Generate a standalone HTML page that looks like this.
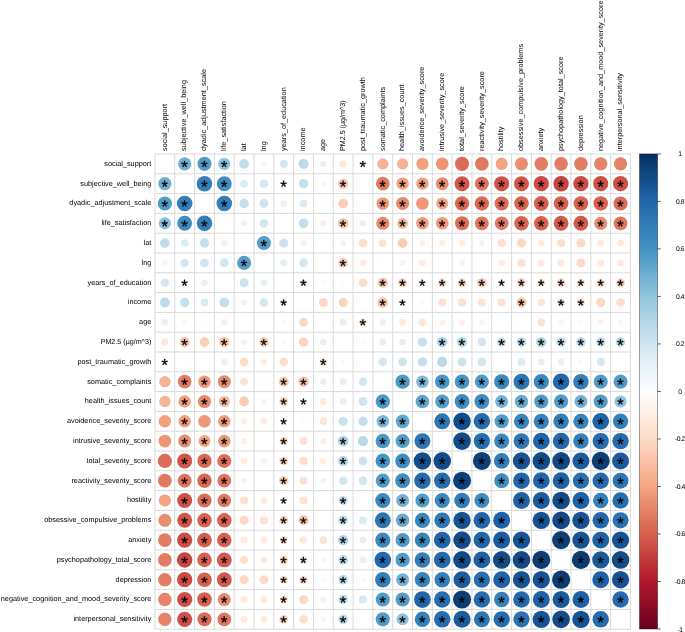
<!DOCTYPE html>
<html><head><meta charset="utf-8"><style>
html,body{margin:0;padding:0;background:#fff;width:685px;height:632px;overflow:hidden;}
use{fill:#000;stroke:#000;stroke-width:36.1;stroke-linejoin:round;}
svg text{font-family:"Liberation Sans",sans-serif;text-rendering:geometricPrecision;fill:#000;}
</style></head><body>
<svg width="685" height="632" viewBox="0 0 685 632" style="position:absolute;left:0;top:0;will-change:transform"><rect x="0" y="0" width="685" height="632" fill="#fff"/><path d="M154.96 153.97V629.22M154.96 153.97H630.45M174.77 153.97V629.22M154.96 173.77H630.45M194.58 153.97V629.22M154.96 193.57H630.45M214.40 153.97V629.22M154.96 213.38H630.45M234.21 153.97V629.22M154.96 233.18H630.45M254.02 153.97V629.22M154.96 252.98H630.45M273.83 153.97V629.22M154.96 272.78H630.45M293.64 153.97V629.22M154.96 292.58H630.45M313.46 153.97V629.22M154.96 312.39H630.45M333.27 153.97V629.22M154.96 332.19H630.45M353.08 153.97V629.22M154.96 351.99H630.45M372.89 153.97V629.22M154.96 371.79H630.45M392.70 153.97V629.22M154.96 391.59H630.45M412.52 153.97V629.22M154.96 411.40H630.45M432.33 153.97V629.22M154.96 431.20H630.45M452.14 153.97V629.22M154.96 451.00H630.45M471.95 153.97V629.22M154.96 470.80H630.45M491.76 153.97V629.22M154.96 490.60H630.45M511.58 153.97V629.22M154.96 510.41H630.45M531.39 153.97V629.22M154.96 530.21H630.45M551.20 153.97V629.22M154.96 550.01H630.45M571.01 153.97V629.22M154.96 569.81H630.45M590.82 153.97V629.22M154.96 589.61H630.45M610.64 153.97V629.22M154.96 609.42H630.45M630.45 153.97V629.22M154.96 629.22H630.45" stroke="#d9d9d9" stroke-width="1.0" fill="none"/><circle cx="184.68" cy="163.87" r="6.61" fill="#6FAFD2"/><circle cx="204.49" cy="163.87" r="7.07" fill="#509BC7"/><circle cx="224.30" cy="163.87" r="6.11" fill="#8BC1DC"/><circle cx="244.11" cy="163.87" r="4.88" fill="#BFDCEB"/><circle cx="263.93" cy="163.87" r="2.67" fill="#F0F7FA"/><circle cx="283.74" cy="163.87" r="4.18" fill="#D4E7F1"/><circle cx="303.55" cy="163.87" r="4.96" fill="#BCDAEA"/><circle cx="323.36" cy="163.87" r="3.22" fill="#E7F1F7"/><circle cx="343.17" cy="163.87" r="3.56" fill="#FEE8DC"/><circle cx="382.80" cy="163.87" r="5.64" fill="#F6B394"/><circle cx="402.61" cy="163.87" r="5.64" fill="#F6B394"/><circle cx="422.42" cy="163.87" r="6.18" fill="#F19F7D"/><circle cx="442.23" cy="163.87" r="6.37" fill="#ED9575"/><circle cx="462.05" cy="163.87" r="7.08" fill="#DB6B56"/><circle cx="481.86" cy="163.87" r="6.89" fill="#E17960"/><circle cx="501.67" cy="163.87" r="6.11" fill="#F3A380"/><circle cx="521.48" cy="163.87" r="6.51" fill="#EA8E70"/><circle cx="541.29" cy="163.87" r="6.83" fill="#E27C63"/><circle cx="561.11" cy="163.87" r="6.83" fill="#E27C63"/><circle cx="580.92" cy="163.87" r="6.83" fill="#E27C63"/><circle cx="600.73" cy="163.87" r="6.70" fill="#E58368"/><circle cx="620.54" cy="163.87" r="6.70" fill="#E58368"/><circle cx="164.87" cy="183.67" r="6.61" fill="#6FAFD2"/><circle cx="204.49" cy="183.67" r="7.77" fill="#347FB9"/><circle cx="224.30" cy="183.67" r="7.42" fill="#3E8DC0"/><circle cx="244.11" cy="183.67" r="3.89" fill="#DBEBF3"/><circle cx="263.93" cy="183.67" r="4.18" fill="#D4E7F1"/><circle cx="303.55" cy="183.67" r="4.71" fill="#C6DFED"/><circle cx="323.36" cy="183.67" r="2.39" fill="#F2F8FB"/><circle cx="343.17" cy="183.67" r="5.12" fill="#FAC6AD"/><circle cx="362.99" cy="183.67" r="1.66" fill="#F9FCFD"/><circle cx="382.80" cy="183.67" r="6.83" fill="#E27C63"/><circle cx="402.61" cy="183.67" r="6.18" fill="#F19F7D"/><circle cx="422.42" cy="183.67" r="6.18" fill="#F19F7D"/><circle cx="442.23" cy="183.67" r="6.49" fill="#EA8E70"/><circle cx="462.05" cy="183.67" r="7.48" fill="#D15648"/><circle cx="481.86" cy="183.67" r="6.96" fill="#DE725B"/><circle cx="501.67" cy="183.67" r="7.53" fill="#CF5247"/><circle cx="521.48" cy="183.67" r="7.46" fill="#D15648"/><circle cx="541.29" cy="183.67" r="7.62" fill="#CC4B43"/><circle cx="561.11" cy="183.67" r="7.72" fill="#C84440"/><circle cx="580.92" cy="183.67" r="7.64" fill="#CC4B43"/><circle cx="600.73" cy="183.67" r="7.57" fill="#CD4F45"/><circle cx="620.54" cy="183.67" r="7.57" fill="#CD4F45"/><circle cx="164.87" cy="203.47" r="7.07" fill="#509BC7"/><circle cx="184.68" cy="203.47" r="7.77" fill="#347FB9"/><circle cx="224.30" cy="203.47" r="7.77" fill="#347FB9"/><circle cx="244.11" cy="203.47" r="4.71" fill="#C6DFED"/><circle cx="263.93" cy="203.47" r="4.46" fill="#CFE4EF"/><circle cx="283.74" cy="203.47" r="3.22" fill="#E7F1F7"/><circle cx="303.55" cy="203.47" r="3.89" fill="#DBEBF3"/><circle cx="323.36" cy="203.47" r="1.66" fill="#F9FCFD"/><circle cx="343.17" cy="203.47" r="4.80" fill="#FBCFB7"/><circle cx="362.99" cy="203.47" r="1.29" fill="#FCFDFE"/><circle cx="382.80" cy="203.47" r="6.30" fill="#EE9878"/><circle cx="402.61" cy="203.47" r="6.58" fill="#E88A6D"/><circle cx="422.42" cy="203.47" r="6.30" fill="#EE9878"/><circle cx="442.23" cy="203.47" r="5.98" fill="#F4A683"/><circle cx="462.05" cy="203.47" r="7.18" fill="#D96853"/><circle cx="481.86" cy="203.47" r="7.18" fill="#D96853"/><circle cx="501.67" cy="203.47" r="7.08" fill="#DB6B56"/><circle cx="521.48" cy="203.47" r="7.24" fill="#D86450"/><circle cx="541.29" cy="203.47" r="7.35" fill="#D55D4C"/><circle cx="561.11" cy="203.47" r="7.31" fill="#D6614E"/><circle cx="580.92" cy="203.47" r="7.31" fill="#D6614E"/><circle cx="600.73" cy="203.47" r="7.29" fill="#D6614E"/><circle cx="620.54" cy="203.47" r="7.08" fill="#DB6B56"/><circle cx="164.87" cy="223.28" r="6.11" fill="#8BC1DC"/><circle cx="184.68" cy="223.28" r="7.42" fill="#3E8DC0"/><circle cx="204.49" cy="223.28" r="7.77" fill="#347FB9"/><circle cx="244.11" cy="223.28" r="3.09" fill="#E9F3F8"/><circle cx="263.93" cy="223.28" r="4.37" fill="#D2E6F0"/><circle cx="283.74" cy="223.28" r="1.29" fill="#FCFDFE"/><circle cx="303.55" cy="223.28" r="4.80" fill="#C2DEEC"/><circle cx="323.36" cy="223.28" r="3.22" fill="#FEEEE4"/><circle cx="343.17" cy="223.28" r="5.20" fill="#F9C4A9"/><circle cx="362.99" cy="223.28" r="3.33" fill="#E7F1F7"/><circle cx="382.80" cy="223.28" r="6.55" fill="#E88A6D"/><circle cx="402.61" cy="223.28" r="5.50" fill="#F7B99B"/><circle cx="422.42" cy="223.28" r="6.24" fill="#F09C7B"/><circle cx="442.23" cy="223.28" r="6.30" fill="#EE9878"/><circle cx="462.05" cy="223.28" r="7.02" fill="#DC6F58"/><circle cx="481.86" cy="223.28" r="6.90" fill="#DF755E"/><circle cx="501.67" cy="223.28" r="6.85" fill="#E17960"/><circle cx="521.48" cy="223.28" r="7.24" fill="#D86450"/><circle cx="541.29" cy="223.28" r="7.29" fill="#D6614E"/><circle cx="561.11" cy="223.28" r="7.42" fill="#D3594A"/><circle cx="580.92" cy="223.28" r="7.42" fill="#D3594A"/><circle cx="600.73" cy="223.28" r="6.55" fill="#E88A6D"/><circle cx="620.54" cy="223.28" r="6.90" fill="#DF755E"/><circle cx="164.87" cy="243.08" r="4.88" fill="#BFDCEB"/><circle cx="184.68" cy="243.08" r="3.89" fill="#DBEBF3"/><circle cx="204.49" cy="243.08" r="4.71" fill="#C6DFED"/><circle cx="224.30" cy="243.08" r="3.09" fill="#E9F3F8"/><circle cx="263.93" cy="243.08" r="7.02" fill="#549EC9"/><circle cx="283.74" cy="243.08" r="4.54" fill="#CCE2EF"/><circle cx="303.55" cy="243.08" r="2.95" fill="#EBF4F9"/><circle cx="323.36" cy="243.08" r="1.66" fill="#FFFCFB"/><circle cx="343.17" cy="243.08" r="2.95" fill="#EBF4F9"/><circle cx="362.99" cy="243.08" r="4.37" fill="#FDDCC8"/><circle cx="382.80" cy="243.08" r="3.89" fill="#FDE3D3"/><circle cx="402.61" cy="243.08" r="4.88" fill="#FACCB4"/><circle cx="422.42" cy="243.08" r="3.09" fill="#FEEEE4"/><circle cx="442.23" cy="243.08" r="3.22" fill="#FEEEE4"/><circle cx="462.05" cy="243.08" r="3.33" fill="#FEECE1"/><circle cx="481.86" cy="243.08" r="2.83" fill="#FEF1EA"/><circle cx="501.67" cy="243.08" r="4.09" fill="#FDDFCE"/><circle cx="521.48" cy="243.08" r="4.54" fill="#FCD7C1"/><circle cx="541.29" cy="243.08" r="3.45" fill="#FEEADF"/><circle cx="561.11" cy="243.08" r="4.18" fill="#FDDFCE"/><circle cx="580.92" cy="243.08" r="4.54" fill="#FCD7C1"/><circle cx="600.73" cy="243.08" r="3.45" fill="#FEEADF"/><circle cx="620.54" cy="243.08" r="3.45" fill="#FEEADF"/><circle cx="164.87" cy="262.88" r="2.67" fill="#F0F7FA"/><circle cx="184.68" cy="262.88" r="4.18" fill="#D4E7F1"/><circle cx="204.49" cy="262.88" r="4.46" fill="#CFE4EF"/><circle cx="224.30" cy="262.88" r="4.37" fill="#D2E6F0"/><circle cx="244.11" cy="262.88" r="7.02" fill="#549EC9"/><circle cx="283.74" cy="262.88" r="3.45" fill="#E4F0F6"/><circle cx="303.55" cy="262.88" r="4.28" fill="#D4E7F1"/><circle cx="323.36" cy="262.88" r="1.66" fill="#FFFCFB"/><circle cx="343.17" cy="262.88" r="4.88" fill="#FACCB4"/><circle cx="362.99" cy="262.88" r="3.33" fill="#FEECE1"/><circle cx="382.80" cy="262.88" r="1.94" fill="#FFFAF8"/><circle cx="402.61" cy="262.88" r="2.83" fill="#FEF1EA"/><circle cx="422.42" cy="262.88" r="3.33" fill="#FEECE1"/><circle cx="442.23" cy="262.88" r="1.66" fill="#FFFCFB"/><circle cx="462.05" cy="262.88" r="2.83" fill="#FEF1EA"/><circle cx="481.86" cy="262.88" r="1.66" fill="#FFFCFB"/><circle cx="501.67" cy="262.88" r="3.33" fill="#FEECE1"/><circle cx="521.48" cy="262.88" r="3.99" fill="#FDE1D1"/><circle cx="541.29" cy="262.88" r="3.45" fill="#FEEADF"/><circle cx="561.11" cy="262.88" r="3.56" fill="#FEE8DC"/><circle cx="580.92" cy="262.88" r="4.46" fill="#FDD9C5"/><circle cx="600.73" cy="262.88" r="3.45" fill="#FEEADF"/><circle cx="620.54" cy="262.88" r="3.45" fill="#FEEADF"/><circle cx="164.87" cy="282.68" r="4.18" fill="#D4E7F1"/><circle cx="204.49" cy="282.68" r="3.22" fill="#E7F1F7"/><circle cx="224.30" cy="282.68" r="1.29" fill="#FCFDFE"/><circle cx="244.11" cy="282.68" r="4.54" fill="#CCE2EF"/><circle cx="263.93" cy="282.68" r="3.45" fill="#E4F0F6"/><circle cx="303.55" cy="282.68" r="3.45" fill="#E4F0F6"/><circle cx="323.36" cy="282.68" r="2.18" fill="#FFF9F5"/><circle cx="343.17" cy="282.68" r="2.18" fill="#FFF9F5"/><circle cx="362.99" cy="282.68" r="4.28" fill="#FDDECB"/><circle cx="382.80" cy="282.68" r="5.04" fill="#FAC6AD"/><circle cx="402.61" cy="282.68" r="4.54" fill="#FCD7C1"/><circle cx="422.42" cy="282.68" r="1.66" fill="#FFFCFB"/><circle cx="442.23" cy="282.68" r="4.28" fill="#FDDECB"/><circle cx="462.05" cy="282.68" r="4.46" fill="#FDD9C5"/><circle cx="481.86" cy="282.68" r="4.80" fill="#FBCFB7"/><circle cx="521.48" cy="282.68" r="4.46" fill="#FDD9C5"/><circle cx="541.29" cy="282.68" r="3.78" fill="#FEE5D6"/><circle cx="561.11" cy="282.68" r="4.37" fill="#FDDCC8"/><circle cx="580.92" cy="282.68" r="3.89" fill="#FDE3D3"/><circle cx="600.73" cy="282.68" r="3.99" fill="#FDE1D1"/><circle cx="620.54" cy="282.68" r="4.46" fill="#FDD9C5"/><circle cx="164.87" cy="302.49" r="4.96" fill="#BCDAEA"/><circle cx="184.68" cy="302.49" r="4.71" fill="#C6DFED"/><circle cx="204.49" cy="302.49" r="3.89" fill="#DBEBF3"/><circle cx="224.30" cy="302.49" r="4.80" fill="#C2DEEC"/><circle cx="244.11" cy="302.49" r="2.95" fill="#EBF4F9"/><circle cx="263.93" cy="302.49" r="4.28" fill="#D4E7F1"/><circle cx="283.74" cy="302.49" r="3.45" fill="#E4F0F6"/><circle cx="323.36" cy="302.49" r="4.46" fill="#FDD9C5"/><circle cx="343.17" cy="302.49" r="4.63" fill="#FCD4BE"/><circle cx="362.99" cy="302.49" r="1.03" fill="#FEFEFF"/><circle cx="382.80" cy="302.49" r="5.20" fill="#F9C4A9"/><circle cx="422.42" cy="302.49" r="2.18" fill="#FFF9F5"/><circle cx="442.23" cy="302.49" r="3.99" fill="#FDE1D1"/><circle cx="462.05" cy="302.49" r="4.09" fill="#FDDFCE"/><circle cx="481.86" cy="302.49" r="3.99" fill="#FDE1D1"/><circle cx="501.67" cy="302.49" r="3.99" fill="#FDE1D1"/><circle cx="521.48" cy="302.49" r="5.04" fill="#FAC6AD"/><circle cx="541.29" cy="302.49" r="3.68" fill="#FEE7D9"/><circle cx="561.11" cy="302.49" r="3.89" fill="#FDE3D3"/><circle cx="580.92" cy="302.49" r="3.99" fill="#FDE1D1"/><circle cx="600.73" cy="302.49" r="4.46" fill="#FDD9C5"/><circle cx="620.54" cy="302.49" r="4.28" fill="#FDDECB"/><circle cx="164.87" cy="322.29" r="3.22" fill="#E7F1F7"/><circle cx="184.68" cy="322.29" r="2.39" fill="#F2F8FB"/><circle cx="204.49" cy="322.29" r="1.66" fill="#F9FCFD"/><circle cx="224.30" cy="322.29" r="3.22" fill="#FEEEE4"/><circle cx="244.11" cy="322.29" r="1.66" fill="#FFFCFB"/><circle cx="263.93" cy="322.29" r="1.66" fill="#FFFCFB"/><circle cx="283.74" cy="322.29" r="2.18" fill="#FFF9F5"/><circle cx="303.55" cy="322.29" r="4.46" fill="#FDD9C5"/><circle cx="343.17" cy="322.29" r="3.45" fill="#E4F0F6"/><circle cx="362.99" cy="322.29" r="3.74" fill="#FEE7D9"/><circle cx="382.80" cy="322.29" r="3.22" fill="#E7F1F7"/><circle cx="402.61" cy="322.29" r="3.45" fill="#FEEADF"/><circle cx="422.42" cy="322.29" r="3.78" fill="#FEE5D6"/><circle cx="442.23" cy="322.29" r="3.09" fill="#FEEEE4"/><circle cx="462.05" cy="322.29" r="3.09" fill="#FEEEE4"/><circle cx="481.86" cy="322.29" r="2.83" fill="#FEF1EA"/><circle cx="501.67" cy="322.29" r="1.29" fill="#FFFEFE"/><circle cx="521.48" cy="322.29" r="1.66" fill="#FFFCFB"/><circle cx="541.29" cy="322.29" r="3.89" fill="#FDE3D3"/><circle cx="561.11" cy="322.29" r="2.67" fill="#FEF3ED"/><circle cx="580.92" cy="322.29" r="2.07" fill="#FFF9F5"/><circle cx="600.73" cy="322.29" r="2.95" fill="#FEF0E7"/><circle cx="620.54" cy="322.29" r="2.53" fill="#FEF5F0"/><circle cx="164.87" cy="342.09" r="3.56" fill="#FEE8DC"/><circle cx="184.68" cy="342.09" r="5.12" fill="#FAC6AD"/><circle cx="204.49" cy="342.09" r="4.80" fill="#FBCFB7"/><circle cx="224.30" cy="342.09" r="5.20" fill="#F9C4A9"/><circle cx="244.11" cy="342.09" r="2.95" fill="#EBF4F9"/><circle cx="263.93" cy="342.09" r="4.88" fill="#FACCB4"/><circle cx="283.74" cy="342.09" r="2.18" fill="#FFF9F5"/><circle cx="303.55" cy="342.09" r="4.63" fill="#FCD4BE"/><circle cx="323.36" cy="342.09" r="3.45" fill="#E4F0F6"/><circle cx="362.99" cy="342.09" r="2.09" fill="#F7FAFC"/><circle cx="382.80" cy="342.09" r="3.40" fill="#E4F0F6"/><circle cx="402.61" cy="342.09" r="3.40" fill="#E4F0F6"/><circle cx="422.42" cy="342.09" r="4.63" fill="#C9E1EE"/><circle cx="442.23" cy="342.09" r="5.28" fill="#AFD4E6"/><circle cx="462.05" cy="342.09" r="5.12" fill="#B6D7E8"/><circle cx="481.86" cy="342.09" r="4.28" fill="#D4E7F1"/><circle cx="501.67" cy="342.09" r="4.58" fill="#C9E1EE"/><circle cx="521.48" cy="342.09" r="4.86" fill="#BFDCEB"/><circle cx="541.29" cy="342.09" r="5.20" fill="#B3D6E7"/><circle cx="561.11" cy="342.09" r="4.86" fill="#BFDCEB"/><circle cx="580.92" cy="342.09" r="4.86" fill="#BFDCEB"/><circle cx="600.73" cy="342.09" r="4.77" fill="#C2DEEC"/><circle cx="620.54" cy="342.09" r="4.86" fill="#BFDCEB"/><circle cx="184.68" cy="361.89" r="1.66" fill="#F9FCFD"/><circle cx="204.49" cy="361.89" r="1.29" fill="#FCFDFE"/><circle cx="224.30" cy="361.89" r="3.33" fill="#E7F1F7"/><circle cx="244.11" cy="361.89" r="4.37" fill="#FDDCC8"/><circle cx="263.93" cy="361.89" r="3.33" fill="#FEECE1"/><circle cx="283.74" cy="361.89" r="4.28" fill="#FDDECB"/><circle cx="303.55" cy="361.89" r="1.03" fill="#FEFEFF"/><circle cx="323.36" cy="361.89" r="3.74" fill="#FEE7D9"/><circle cx="343.17" cy="361.89" r="2.09" fill="#F7FAFC"/><circle cx="382.80" cy="361.89" r="4.28" fill="#D4E7F1"/><circle cx="402.61" cy="361.89" r="4.46" fill="#CFE4EF"/><circle cx="422.42" cy="361.89" r="4.71" fill="#C6DFED"/><circle cx="442.23" cy="361.89" r="5.04" fill="#B9D9E9"/><circle cx="462.05" cy="361.89" r="4.49" fill="#CCE2EF"/><circle cx="481.86" cy="361.89" r="4.37" fill="#D2E6F0"/><circle cx="521.48" cy="361.89" r="3.89" fill="#DBEBF3"/><circle cx="541.29" cy="361.89" r="3.45" fill="#E4F0F6"/><circle cx="561.11" cy="361.89" r="3.33" fill="#E7F1F7"/><circle cx="580.92" cy="361.89" r="2.18" fill="#F5F9FC"/><circle cx="600.73" cy="361.89" r="4.09" fill="#D7E8F2"/><circle cx="620.54" cy="361.89" r="1.29" fill="#FFFEFE"/><circle cx="164.87" cy="381.69" r="5.64" fill="#F6B394"/><circle cx="184.68" cy="381.69" r="6.83" fill="#E27C63"/><circle cx="204.49" cy="381.69" r="6.30" fill="#EE9878"/><circle cx="224.30" cy="381.69" r="6.55" fill="#E88A6D"/><circle cx="244.11" cy="381.69" r="3.89" fill="#FDE3D3"/><circle cx="263.93" cy="381.69" r="1.94" fill="#FFFAF8"/><circle cx="283.74" cy="381.69" r="5.04" fill="#FAC6AD"/><circle cx="303.55" cy="381.69" r="5.20" fill="#F9C4A9"/><circle cx="323.36" cy="381.69" r="3.22" fill="#E7F1F7"/><circle cx="343.17" cy="381.69" r="3.40" fill="#E4F0F6"/><circle cx="362.99" cy="381.69" r="4.28" fill="#D4E7F1"/><circle cx="402.61" cy="381.69" r="7.18" fill="#4C99C6"/><circle cx="422.42" cy="381.69" r="6.31" fill="#7FB9D8"/><circle cx="442.23" cy="381.69" r="7.24" fill="#4896C5"/><circle cx="462.05" cy="381.69" r="7.29" fill="#4494C3"/><circle cx="481.86" cy="381.69" r="7.08" fill="#509BC7"/><circle cx="501.67" cy="381.69" r="7.53" fill="#3B88BD"/><circle cx="521.48" cy="381.69" r="7.96" fill="#2D76B4"/><circle cx="541.29" cy="381.69" r="7.57" fill="#3B88BD"/><circle cx="561.11" cy="381.69" r="8.27" fill="#2368AD"/><circle cx="580.92" cy="381.69" r="7.75" fill="#347FB9"/><circle cx="600.73" cy="381.69" r="7.07" fill="#509BC7"/><circle cx="620.54" cy="381.69" r="7.07" fill="#509BC7"/><circle cx="164.87" cy="401.50" r="5.64" fill="#F6B394"/><circle cx="184.68" cy="401.50" r="6.18" fill="#F19F7D"/><circle cx="204.49" cy="401.50" r="6.58" fill="#E88A6D"/><circle cx="224.30" cy="401.50" r="5.50" fill="#F7B99B"/><circle cx="244.11" cy="401.50" r="4.88" fill="#FACCB4"/><circle cx="263.93" cy="401.50" r="2.83" fill="#FEF1EA"/><circle cx="283.74" cy="401.50" r="4.54" fill="#FCD7C1"/><circle cx="323.36" cy="401.50" r="3.45" fill="#FEEADF"/><circle cx="343.17" cy="401.50" r="3.40" fill="#E4F0F6"/><circle cx="362.99" cy="401.50" r="4.46" fill="#CFE4EF"/><circle cx="382.80" cy="401.50" r="7.18" fill="#4C99C6"/><circle cx="422.42" cy="401.50" r="6.83" fill="#60A5CD"/><circle cx="442.23" cy="401.50" r="7.01" fill="#549EC9"/><circle cx="462.05" cy="401.50" r="7.42" fill="#3E8DC0"/><circle cx="481.86" cy="401.50" r="7.42" fill="#3E8DC0"/><circle cx="501.67" cy="401.50" r="6.51" fill="#73B2D4"/><circle cx="521.48" cy="401.50" r="6.70" fill="#68AACF"/><circle cx="541.29" cy="401.50" r="7.07" fill="#509BC7"/><circle cx="561.11" cy="401.50" r="7.13" fill="#509BC7"/><circle cx="580.92" cy="401.50" r="6.51" fill="#73B2D4"/><circle cx="600.73" cy="401.50" r="7.07" fill="#509BC7"/><circle cx="620.54" cy="401.50" r="6.04" fill="#8FC3DD"/><circle cx="164.87" cy="421.30" r="6.18" fill="#F19F7D"/><circle cx="184.68" cy="421.30" r="6.18" fill="#F19F7D"/><circle cx="204.49" cy="421.30" r="6.30" fill="#EE9878"/><circle cx="224.30" cy="421.30" r="6.24" fill="#F09C7B"/><circle cx="244.11" cy="421.30" r="3.09" fill="#FEEEE4"/><circle cx="263.93" cy="421.30" r="3.33" fill="#FEECE1"/><circle cx="283.74" cy="421.30" r="1.66" fill="#FFFCFB"/><circle cx="303.55" cy="421.30" r="2.18" fill="#FFF9F5"/><circle cx="323.36" cy="421.30" r="3.78" fill="#FEE5D6"/><circle cx="343.17" cy="421.30" r="4.63" fill="#C9E1EE"/><circle cx="362.99" cy="421.30" r="4.71" fill="#C6DFED"/><circle cx="382.80" cy="421.30" r="6.31" fill="#7FB9D8"/><circle cx="402.61" cy="421.30" r="6.83" fill="#60A5CD"/><circle cx="442.23" cy="421.30" r="7.96" fill="#2D76B4"/><circle cx="462.05" cy="421.30" r="8.76" fill="#144E8A"/><circle cx="481.86" cy="421.30" r="8.22" fill="#256BAE"/><circle cx="501.67" cy="421.30" r="7.07" fill="#509BC7"/><circle cx="521.48" cy="421.30" r="7.59" fill="#3986BC"/><circle cx="541.29" cy="421.30" r="7.64" fill="#3784BB"/><circle cx="561.11" cy="421.30" r="7.75" fill="#347FB9"/><circle cx="580.92" cy="421.30" r="7.64" fill="#3784BB"/><circle cx="600.73" cy="421.30" r="8.37" fill="#2064A9"/><circle cx="620.54" cy="421.30" r="7.70" fill="#3681BA"/><circle cx="164.87" cy="441.10" r="6.37" fill="#ED9575"/><circle cx="184.68" cy="441.10" r="6.49" fill="#EA8E70"/><circle cx="204.49" cy="441.10" r="5.98" fill="#F4A683"/><circle cx="224.30" cy="441.10" r="6.30" fill="#EE9878"/><circle cx="244.11" cy="441.10" r="3.22" fill="#FEEEE4"/><circle cx="263.93" cy="441.10" r="1.66" fill="#FFFCFB"/><circle cx="283.74" cy="441.10" r="4.28" fill="#FDDECB"/><circle cx="303.55" cy="441.10" r="3.99" fill="#FDE1D1"/><circle cx="323.36" cy="441.10" r="3.09" fill="#FEEEE4"/><circle cx="343.17" cy="441.10" r="5.28" fill="#AFD4E6"/><circle cx="362.99" cy="441.10" r="5.04" fill="#B9D9E9"/><circle cx="382.80" cy="441.10" r="7.24" fill="#4896C5"/><circle cx="402.61" cy="441.10" r="7.01" fill="#549EC9"/><circle cx="422.42" cy="441.10" r="7.96" fill="#2D76B4"/><circle cx="462.05" cy="441.10" r="8.81" fill="#134B87"/><circle cx="481.86" cy="441.10" r="8.17" fill="#266DB0"/><circle cx="501.67" cy="441.10" r="7.53" fill="#3B88BD"/><circle cx="521.48" cy="441.10" r="7.91" fill="#2F78B5"/><circle cx="541.29" cy="441.10" r="8.37" fill="#2064A9"/><circle cx="561.11" cy="441.10" r="8.27" fill="#2368AD"/><circle cx="580.92" cy="441.10" r="7.75" fill="#347FB9"/><circle cx="600.73" cy="441.10" r="8.17" fill="#266DB0"/><circle cx="620.54" cy="441.10" r="8.22" fill="#256BAE"/><circle cx="164.87" cy="460.90" r="7.08" fill="#DB6B56"/><circle cx="184.68" cy="460.90" r="7.48" fill="#D15648"/><circle cx="204.49" cy="460.90" r="7.18" fill="#D96853"/><circle cx="224.30" cy="460.90" r="7.02" fill="#DC6F58"/><circle cx="244.11" cy="460.90" r="3.33" fill="#FEECE1"/><circle cx="263.93" cy="460.90" r="2.83" fill="#FEF1EA"/><circle cx="283.74" cy="460.90" r="4.46" fill="#FDD9C5"/><circle cx="303.55" cy="460.90" r="4.09" fill="#FDDFCE"/><circle cx="323.36" cy="460.90" r="3.09" fill="#FEEEE4"/><circle cx="343.17" cy="460.90" r="5.12" fill="#B6D7E8"/><circle cx="362.99" cy="460.90" r="4.49" fill="#CCE2EF"/><circle cx="382.80" cy="460.90" r="7.29" fill="#4494C3"/><circle cx="402.61" cy="460.90" r="7.42" fill="#3E8DC0"/><circle cx="422.42" cy="460.90" r="8.76" fill="#144E8A"/><circle cx="442.23" cy="460.90" r="8.81" fill="#134B87"/><circle cx="481.86" cy="460.90" r="9.00" fill="#0D4078"/><circle cx="501.67" cy="460.90" r="7.81" fill="#327DB8"/><circle cx="521.48" cy="460.90" r="8.67" fill="#175392"/><circle cx="541.29" cy="460.90" r="8.81" fill="#134B87"/><circle cx="561.11" cy="460.90" r="8.86" fill="#124883"/><circle cx="580.92" cy="460.90" r="8.52" fill="#1C5B9D"/><circle cx="600.73" cy="460.90" r="9.04" fill="#0C3E74"/><circle cx="620.54" cy="460.90" r="8.52" fill="#1C5B9D"/><circle cx="164.87" cy="480.70" r="6.89" fill="#E17960"/><circle cx="184.68" cy="480.70" r="6.96" fill="#DE725B"/><circle cx="204.49" cy="480.70" r="7.18" fill="#D96853"/><circle cx="224.30" cy="480.70" r="6.90" fill="#DF755E"/><circle cx="244.11" cy="480.70" r="2.83" fill="#FEF1EA"/><circle cx="263.93" cy="480.70" r="1.66" fill="#FFFCFB"/><circle cx="283.74" cy="480.70" r="4.80" fill="#FBCFB7"/><circle cx="303.55" cy="480.70" r="3.99" fill="#FDE1D1"/><circle cx="323.36" cy="480.70" r="2.83" fill="#FEF1EA"/><circle cx="343.17" cy="480.70" r="4.28" fill="#D4E7F1"/><circle cx="362.99" cy="480.70" r="4.37" fill="#D2E6F0"/><circle cx="382.80" cy="480.70" r="7.08" fill="#509BC7"/><circle cx="402.61" cy="480.70" r="7.42" fill="#3E8DC0"/><circle cx="422.42" cy="480.70" r="8.22" fill="#256BAE"/><circle cx="442.23" cy="480.70" r="8.17" fill="#266DB0"/><circle cx="462.05" cy="480.70" r="9.00" fill="#0D4078"/><circle cx="501.67" cy="480.70" r="7.42" fill="#3E8DC0"/><circle cx="521.48" cy="480.70" r="8.32" fill="#2166AC"/><circle cx="541.29" cy="480.70" r="8.37" fill="#2064A9"/><circle cx="561.11" cy="480.70" r="8.42" fill="#1E61A5"/><circle cx="580.92" cy="480.70" r="8.12" fill="#286FB1"/><circle cx="600.73" cy="480.70" r="8.22" fill="#256BAE"/><circle cx="620.54" cy="480.70" r="7.96" fill="#2D76B4"/><circle cx="164.87" cy="500.50" r="6.11" fill="#F3A380"/><circle cx="184.68" cy="500.50" r="7.53" fill="#CF5247"/><circle cx="204.49" cy="500.50" r="7.08" fill="#DB6B56"/><circle cx="224.30" cy="500.50" r="6.85" fill="#E17960"/><circle cx="244.11" cy="500.50" r="4.09" fill="#FDDFCE"/><circle cx="263.93" cy="500.50" r="3.33" fill="#FEECE1"/><circle cx="303.55" cy="500.50" r="3.99" fill="#FDE1D1"/><circle cx="323.36" cy="500.50" r="1.29" fill="#FFFEFE"/><circle cx="343.17" cy="500.50" r="4.58" fill="#C9E1EE"/><circle cx="382.80" cy="500.50" r="7.53" fill="#3B88BD"/><circle cx="402.61" cy="500.50" r="6.51" fill="#73B2D4"/><circle cx="422.42" cy="500.50" r="7.07" fill="#509BC7"/><circle cx="442.23" cy="500.50" r="7.53" fill="#3B88BD"/><circle cx="462.05" cy="500.50" r="7.81" fill="#327DB8"/><circle cx="481.86" cy="500.50" r="7.42" fill="#3E8DC0"/><circle cx="521.48" cy="500.50" r="8.47" fill="#1E61A5"/><circle cx="541.29" cy="500.50" r="8.52" fill="#1C5B9D"/><circle cx="561.11" cy="500.50" r="8.81" fill="#134B87"/><circle cx="580.92" cy="500.50" r="8.47" fill="#1E61A5"/><circle cx="600.73" cy="500.50" r="7.70" fill="#3681BA"/><circle cx="620.54" cy="500.50" r="8.17" fill="#266DB0"/><circle cx="164.87" cy="520.31" r="6.51" fill="#EA8E70"/><circle cx="184.68" cy="520.31" r="7.46" fill="#D15648"/><circle cx="204.49" cy="520.31" r="7.24" fill="#D86450"/><circle cx="224.30" cy="520.31" r="7.24" fill="#D86450"/><circle cx="244.11" cy="520.31" r="4.54" fill="#FCD7C1"/><circle cx="263.93" cy="520.31" r="3.99" fill="#FDE1D1"/><circle cx="283.74" cy="520.31" r="4.46" fill="#FDD9C5"/><circle cx="303.55" cy="520.31" r="5.04" fill="#FAC6AD"/><circle cx="323.36" cy="520.31" r="1.66" fill="#FFFCFB"/><circle cx="343.17" cy="520.31" r="4.86" fill="#BFDCEB"/><circle cx="362.99" cy="520.31" r="3.89" fill="#DBEBF3"/><circle cx="382.80" cy="520.31" r="7.96" fill="#2D76B4"/><circle cx="402.61" cy="520.31" r="6.70" fill="#68AACF"/><circle cx="422.42" cy="520.31" r="7.59" fill="#3986BC"/><circle cx="442.23" cy="520.31" r="7.91" fill="#2F78B5"/><circle cx="462.05" cy="520.31" r="8.67" fill="#175392"/><circle cx="481.86" cy="520.31" r="8.32" fill="#2166AC"/><circle cx="501.67" cy="520.31" r="8.47" fill="#1E61A5"/><circle cx="541.29" cy="520.31" r="8.67" fill="#175392"/><circle cx="561.11" cy="520.31" r="8.86" fill="#124883"/><circle cx="580.92" cy="520.31" r="8.67" fill="#175392"/><circle cx="600.73" cy="520.31" r="8.27" fill="#2368AD"/><circle cx="620.54" cy="520.31" r="8.07" fill="#2A72B2"/><circle cx="164.87" cy="540.11" r="6.83" fill="#E27C63"/><circle cx="184.68" cy="540.11" r="7.62" fill="#CC4B43"/><circle cx="204.49" cy="540.11" r="7.35" fill="#D55D4C"/><circle cx="224.30" cy="540.11" r="7.29" fill="#D6614E"/><circle cx="244.11" cy="540.11" r="3.45" fill="#FEEADF"/><circle cx="263.93" cy="540.11" r="3.45" fill="#FEEADF"/><circle cx="283.74" cy="540.11" r="3.78" fill="#FEE5D6"/><circle cx="303.55" cy="540.11" r="3.68" fill="#FEE7D9"/><circle cx="323.36" cy="540.11" r="3.89" fill="#FDE3D3"/><circle cx="343.17" cy="540.11" r="5.20" fill="#B3D6E7"/><circle cx="362.99" cy="540.11" r="3.45" fill="#E4F0F6"/><circle cx="382.80" cy="540.11" r="7.57" fill="#3B88BD"/><circle cx="402.61" cy="540.11" r="7.07" fill="#509BC7"/><circle cx="422.42" cy="540.11" r="7.64" fill="#3784BB"/><circle cx="442.23" cy="540.11" r="8.37" fill="#2064A9"/><circle cx="462.05" cy="540.11" r="8.81" fill="#134B87"/><circle cx="481.86" cy="540.11" r="8.37" fill="#2064A9"/><circle cx="501.67" cy="540.11" r="8.52" fill="#1C5B9D"/><circle cx="521.48" cy="540.11" r="8.67" fill="#175392"/><circle cx="561.11" cy="540.11" r="9.04" fill="#0C3E74"/><circle cx="580.92" cy="540.11" r="8.67" fill="#175392"/><circle cx="600.73" cy="540.11" r="8.47" fill="#1E61A5"/><circle cx="620.54" cy="540.11" r="8.67" fill="#175392"/><circle cx="164.87" cy="559.91" r="6.83" fill="#E27C63"/><circle cx="184.68" cy="559.91" r="7.72" fill="#C84440"/><circle cx="204.49" cy="559.91" r="7.31" fill="#D6614E"/><circle cx="224.30" cy="559.91" r="7.42" fill="#D3594A"/><circle cx="244.11" cy="559.91" r="4.18" fill="#FDDFCE"/><circle cx="263.93" cy="559.91" r="3.56" fill="#FEE8DC"/><circle cx="283.74" cy="559.91" r="4.37" fill="#FDDCC8"/><circle cx="303.55" cy="559.91" r="3.89" fill="#FDE3D3"/><circle cx="323.36" cy="559.91" r="2.67" fill="#FEF3ED"/><circle cx="343.17" cy="559.91" r="4.86" fill="#BFDCEB"/><circle cx="362.99" cy="559.91" r="3.33" fill="#E7F1F7"/><circle cx="382.80" cy="559.91" r="8.27" fill="#2368AD"/><circle cx="402.61" cy="559.91" r="7.13" fill="#509BC7"/><circle cx="422.42" cy="559.91" r="7.75" fill="#347FB9"/><circle cx="442.23" cy="559.91" r="8.27" fill="#2368AD"/><circle cx="462.05" cy="559.91" r="8.86" fill="#124883"/><circle cx="481.86" cy="559.91" r="8.42" fill="#1E61A5"/><circle cx="501.67" cy="559.91" r="8.81" fill="#134B87"/><circle cx="521.48" cy="559.91" r="8.86" fill="#124883"/><circle cx="541.29" cy="559.91" r="9.04" fill="#0C3E74"/><circle cx="580.92" cy="559.91" r="9.09" fill="#0B3B70"/><circle cx="600.73" cy="559.91" r="8.57" fill="#1A599A"/><circle cx="620.54" cy="559.91" r="8.81" fill="#134B87"/><circle cx="164.87" cy="579.71" r="6.83" fill="#E27C63"/><circle cx="184.68" cy="579.71" r="7.64" fill="#CC4B43"/><circle cx="204.49" cy="579.71" r="7.31" fill="#D6614E"/><circle cx="224.30" cy="579.71" r="7.42" fill="#D3594A"/><circle cx="244.11" cy="579.71" r="4.54" fill="#FCD7C1"/><circle cx="263.93" cy="579.71" r="4.46" fill="#FDD9C5"/><circle cx="283.74" cy="579.71" r="3.89" fill="#FDE3D3"/><circle cx="303.55" cy="579.71" r="3.99" fill="#FDE1D1"/><circle cx="323.36" cy="579.71" r="2.07" fill="#FFF9F5"/><circle cx="343.17" cy="579.71" r="4.86" fill="#BFDCEB"/><circle cx="362.99" cy="579.71" r="2.18" fill="#F5F9FC"/><circle cx="382.80" cy="579.71" r="7.75" fill="#347FB9"/><circle cx="402.61" cy="579.71" r="6.51" fill="#73B2D4"/><circle cx="422.42" cy="579.71" r="7.64" fill="#3784BB"/><circle cx="442.23" cy="579.71" r="7.75" fill="#347FB9"/><circle cx="462.05" cy="579.71" r="8.52" fill="#1C5B9D"/><circle cx="481.86" cy="579.71" r="8.12" fill="#286FB1"/><circle cx="501.67" cy="579.71" r="8.47" fill="#1E61A5"/><circle cx="521.48" cy="579.71" r="8.67" fill="#175392"/><circle cx="541.29" cy="579.71" r="8.67" fill="#175392"/><circle cx="561.11" cy="579.71" r="9.09" fill="#0B3B70"/><circle cx="600.73" cy="579.71" r="8.47" fill="#1E61A5"/><circle cx="620.54" cy="579.71" r="8.67" fill="#175392"/><circle cx="164.87" cy="599.51" r="6.70" fill="#E58368"/><circle cx="184.68" cy="599.51" r="7.57" fill="#CD4F45"/><circle cx="204.49" cy="599.51" r="7.29" fill="#D6614E"/><circle cx="224.30" cy="599.51" r="6.55" fill="#E88A6D"/><circle cx="244.11" cy="599.51" r="3.45" fill="#FEEADF"/><circle cx="263.93" cy="599.51" r="3.45" fill="#FEEADF"/><circle cx="283.74" cy="599.51" r="3.99" fill="#FDE1D1"/><circle cx="303.55" cy="599.51" r="4.46" fill="#FDD9C5"/><circle cx="323.36" cy="599.51" r="2.95" fill="#FEF0E7"/><circle cx="343.17" cy="599.51" r="4.77" fill="#C2DEEC"/><circle cx="362.99" cy="599.51" r="4.09" fill="#D7E8F2"/><circle cx="382.80" cy="599.51" r="7.07" fill="#509BC7"/><circle cx="402.61" cy="599.51" r="7.07" fill="#509BC7"/><circle cx="422.42" cy="599.51" r="8.37" fill="#2064A9"/><circle cx="442.23" cy="599.51" r="8.17" fill="#266DB0"/><circle cx="462.05" cy="599.51" r="9.04" fill="#0C3E74"/><circle cx="481.86" cy="599.51" r="8.22" fill="#256BAE"/><circle cx="501.67" cy="599.51" r="7.70" fill="#3681BA"/><circle cx="521.48" cy="599.51" r="8.27" fill="#2368AD"/><circle cx="541.29" cy="599.51" r="8.47" fill="#1E61A5"/><circle cx="561.11" cy="599.51" r="8.57" fill="#1A599A"/><circle cx="580.92" cy="599.51" r="8.47" fill="#1E61A5"/><circle cx="620.54" cy="599.51" r="8.22" fill="#256BAE"/><circle cx="164.87" cy="619.32" r="6.70" fill="#E58368"/><circle cx="184.68" cy="619.32" r="7.57" fill="#CD4F45"/><circle cx="204.49" cy="619.32" r="7.08" fill="#DB6B56"/><circle cx="224.30" cy="619.32" r="6.90" fill="#DF755E"/><circle cx="244.11" cy="619.32" r="3.45" fill="#FEEADF"/><circle cx="263.93" cy="619.32" r="3.45" fill="#FEEADF"/><circle cx="283.74" cy="619.32" r="4.46" fill="#FDD9C5"/><circle cx="303.55" cy="619.32" r="4.28" fill="#FDDECB"/><circle cx="323.36" cy="619.32" r="2.53" fill="#FEF5F0"/><circle cx="343.17" cy="619.32" r="4.86" fill="#BFDCEB"/><circle cx="362.99" cy="619.32" r="1.29" fill="#FFFEFE"/><circle cx="382.80" cy="619.32" r="7.07" fill="#509BC7"/><circle cx="402.61" cy="619.32" r="6.04" fill="#8FC3DD"/><circle cx="422.42" cy="619.32" r="7.70" fill="#3681BA"/><circle cx="442.23" cy="619.32" r="8.22" fill="#256BAE"/><circle cx="462.05" cy="619.32" r="8.52" fill="#1C5B9D"/><circle cx="481.86" cy="619.32" r="7.96" fill="#2D76B4"/><circle cx="501.67" cy="619.32" r="8.17" fill="#266DB0"/><circle cx="521.48" cy="619.32" r="8.07" fill="#2A72B2"/><circle cx="541.29" cy="619.32" r="8.67" fill="#175392"/><circle cx="561.11" cy="619.32" r="8.81" fill="#134B87"/><circle cx="580.92" cy="619.32" r="8.67" fill="#175392"/><circle cx="600.73" cy="619.32" r="8.22" fill="#256BAE"/><defs><path id="ast" d="M456 1114 720 1217 765 1085 483 1012 668 762 549 690 399 948 243 692 124 764 313 1012 33 1085 78 1219 345 1112 333 1409H469Z" transform="scale(0.008301,-0.008301) translate(-399,-1049.5)"/></defs><use href="#ast" x="184.53" y="164.02"/><use href="#ast" x="204.34" y="164.02"/><use href="#ast" x="224.15" y="164.02"/><use href="#ast" x="362.84" y="164.02"/><use href="#ast" x="164.72" y="183.82"/><use href="#ast" x="204.34" y="183.82"/><use href="#ast" x="224.15" y="183.82"/><use href="#ast" x="283.59" y="183.82"/><use href="#ast" x="343.02" y="183.82"/><use href="#ast" x="382.65" y="183.82"/><use href="#ast" x="402.46" y="183.82"/><use href="#ast" x="422.27" y="183.82"/><use href="#ast" x="442.08" y="183.82"/><use href="#ast" x="461.90" y="183.82"/><use href="#ast" x="481.71" y="183.82"/><use href="#ast" x="501.52" y="183.82"/><use href="#ast" x="521.33" y="183.82"/><use href="#ast" x="541.14" y="183.82"/><use href="#ast" x="560.96" y="183.82"/><use href="#ast" x="580.77" y="183.82"/><use href="#ast" x="600.58" y="183.82"/><use href="#ast" x="620.39" y="183.82"/><use href="#ast" x="164.72" y="203.62"/><use href="#ast" x="184.53" y="203.62"/><use href="#ast" x="224.15" y="203.62"/><use href="#ast" x="382.65" y="203.62"/><use href="#ast" x="402.46" y="203.62"/><use href="#ast" x="442.08" y="203.62"/><use href="#ast" x="461.90" y="203.62"/><use href="#ast" x="481.71" y="203.62"/><use href="#ast" x="501.52" y="203.62"/><use href="#ast" x="521.33" y="203.62"/><use href="#ast" x="541.14" y="203.62"/><use href="#ast" x="560.96" y="203.62"/><use href="#ast" x="580.77" y="203.62"/><use href="#ast" x="600.58" y="203.62"/><use href="#ast" x="620.39" y="203.62"/><use href="#ast" x="164.72" y="223.43"/><use href="#ast" x="184.53" y="223.43"/><use href="#ast" x="204.34" y="223.43"/><use href="#ast" x="343.02" y="223.43"/><use href="#ast" x="382.65" y="223.43"/><use href="#ast" x="402.46" y="223.43"/><use href="#ast" x="422.27" y="223.43"/><use href="#ast" x="442.08" y="223.43"/><use href="#ast" x="461.90" y="223.43"/><use href="#ast" x="481.71" y="223.43"/><use href="#ast" x="501.52" y="223.43"/><use href="#ast" x="521.33" y="223.43"/><use href="#ast" x="541.14" y="223.43"/><use href="#ast" x="560.96" y="223.43"/><use href="#ast" x="580.77" y="223.43"/><use href="#ast" x="600.58" y="223.43"/><use href="#ast" x="620.39" y="223.43"/><use href="#ast" x="263.78" y="243.23"/><use href="#ast" x="243.96" y="263.03"/><use href="#ast" x="343.02" y="263.03"/><use href="#ast" x="184.53" y="282.83"/><use href="#ast" x="303.40" y="282.83"/><use href="#ast" x="382.65" y="282.83"/><use href="#ast" x="402.46" y="282.83"/><use href="#ast" x="422.27" y="282.83"/><use href="#ast" x="442.08" y="282.83"/><use href="#ast" x="461.90" y="282.83"/><use href="#ast" x="481.71" y="282.83"/><use href="#ast" x="501.52" y="282.83"/><use href="#ast" x="521.33" y="282.83"/><use href="#ast" x="541.14" y="282.83"/><use href="#ast" x="560.96" y="282.83"/><use href="#ast" x="580.77" y="282.83"/><use href="#ast" x="600.58" y="282.83"/><use href="#ast" x="620.39" y="282.83"/><use href="#ast" x="283.59" y="302.63"/><use href="#ast" x="382.65" y="302.63"/><use href="#ast" x="402.46" y="302.63"/><use href="#ast" x="521.33" y="302.63"/><use href="#ast" x="560.96" y="302.63"/><use href="#ast" x="580.77" y="302.63"/><use href="#ast" x="362.84" y="322.44"/><use href="#ast" x="184.53" y="342.24"/><use href="#ast" x="224.15" y="342.24"/><use href="#ast" x="263.78" y="342.24"/><use href="#ast" x="442.08" y="342.24"/><use href="#ast" x="461.90" y="342.24"/><use href="#ast" x="501.52" y="342.24"/><use href="#ast" x="521.33" y="342.24"/><use href="#ast" x="541.14" y="342.24"/><use href="#ast" x="560.96" y="342.24"/><use href="#ast" x="580.77" y="342.24"/><use href="#ast" x="600.58" y="342.24"/><use href="#ast" x="620.39" y="342.24"/><use href="#ast" x="164.72" y="362.04"/><use href="#ast" x="323.21" y="362.04"/><use href="#ast" x="184.53" y="381.84"/><use href="#ast" x="204.34" y="381.84"/><use href="#ast" x="224.15" y="381.84"/><use href="#ast" x="283.59" y="381.84"/><use href="#ast" x="303.40" y="381.84"/><use href="#ast" x="402.46" y="381.84"/><use href="#ast" x="422.27" y="381.84"/><use href="#ast" x="442.08" y="381.84"/><use href="#ast" x="461.90" y="381.84"/><use href="#ast" x="481.71" y="381.84"/><use href="#ast" x="501.52" y="381.84"/><use href="#ast" x="521.33" y="381.84"/><use href="#ast" x="541.14" y="381.84"/><use href="#ast" x="560.96" y="381.84"/><use href="#ast" x="580.77" y="381.84"/><use href="#ast" x="600.58" y="381.84"/><use href="#ast" x="620.39" y="381.84"/><use href="#ast" x="184.53" y="401.64"/><use href="#ast" x="204.34" y="401.64"/><use href="#ast" x="224.15" y="401.64"/><use href="#ast" x="283.59" y="401.64"/><use href="#ast" x="303.40" y="401.64"/><use href="#ast" x="382.65" y="401.64"/><use href="#ast" x="422.27" y="401.64"/><use href="#ast" x="442.08" y="401.64"/><use href="#ast" x="461.90" y="401.64"/><use href="#ast" x="481.71" y="401.64"/><use href="#ast" x="501.52" y="401.64"/><use href="#ast" x="521.33" y="401.64"/><use href="#ast" x="541.14" y="401.64"/><use href="#ast" x="560.96" y="401.64"/><use href="#ast" x="580.77" y="401.64"/><use href="#ast" x="600.58" y="401.64"/><use href="#ast" x="620.39" y="401.64"/><use href="#ast" x="184.53" y="421.45"/><use href="#ast" x="224.15" y="421.45"/><use href="#ast" x="283.59" y="421.45"/><use href="#ast" x="382.65" y="421.45"/><use href="#ast" x="402.46" y="421.45"/><use href="#ast" x="442.08" y="421.45"/><use href="#ast" x="461.90" y="421.45"/><use href="#ast" x="481.71" y="421.45"/><use href="#ast" x="501.52" y="421.45"/><use href="#ast" x="521.33" y="421.45"/><use href="#ast" x="541.14" y="421.45"/><use href="#ast" x="560.96" y="421.45"/><use href="#ast" x="580.77" y="421.45"/><use href="#ast" x="600.58" y="421.45"/><use href="#ast" x="620.39" y="421.45"/><use href="#ast" x="184.53" y="441.25"/><use href="#ast" x="204.34" y="441.25"/><use href="#ast" x="224.15" y="441.25"/><use href="#ast" x="283.59" y="441.25"/><use href="#ast" x="343.02" y="441.25"/><use href="#ast" x="382.65" y="441.25"/><use href="#ast" x="402.46" y="441.25"/><use href="#ast" x="422.27" y="441.25"/><use href="#ast" x="461.90" y="441.25"/><use href="#ast" x="481.71" y="441.25"/><use href="#ast" x="501.52" y="441.25"/><use href="#ast" x="521.33" y="441.25"/><use href="#ast" x="541.14" y="441.25"/><use href="#ast" x="560.96" y="441.25"/><use href="#ast" x="580.77" y="441.25"/><use href="#ast" x="600.58" y="441.25"/><use href="#ast" x="620.39" y="441.25"/><use href="#ast" x="184.53" y="461.05"/><use href="#ast" x="204.34" y="461.05"/><use href="#ast" x="224.15" y="461.05"/><use href="#ast" x="283.59" y="461.05"/><use href="#ast" x="343.02" y="461.05"/><use href="#ast" x="382.65" y="461.05"/><use href="#ast" x="402.46" y="461.05"/><use href="#ast" x="422.27" y="461.05"/><use href="#ast" x="442.08" y="461.05"/><use href="#ast" x="481.71" y="461.05"/><use href="#ast" x="501.52" y="461.05"/><use href="#ast" x="521.33" y="461.05"/><use href="#ast" x="541.14" y="461.05"/><use href="#ast" x="560.96" y="461.05"/><use href="#ast" x="580.77" y="461.05"/><use href="#ast" x="600.58" y="461.05"/><use href="#ast" x="620.39" y="461.05"/><use href="#ast" x="184.53" y="480.85"/><use href="#ast" x="204.34" y="480.85"/><use href="#ast" x="224.15" y="480.85"/><use href="#ast" x="283.59" y="480.85"/><use href="#ast" x="382.65" y="480.85"/><use href="#ast" x="402.46" y="480.85"/><use href="#ast" x="422.27" y="480.85"/><use href="#ast" x="442.08" y="480.85"/><use href="#ast" x="461.90" y="480.85"/><use href="#ast" x="501.52" y="480.85"/><use href="#ast" x="521.33" y="480.85"/><use href="#ast" x="541.14" y="480.85"/><use href="#ast" x="560.96" y="480.85"/><use href="#ast" x="580.77" y="480.85"/><use href="#ast" x="600.58" y="480.85"/><use href="#ast" x="620.39" y="480.85"/><use href="#ast" x="184.53" y="500.65"/><use href="#ast" x="204.34" y="500.65"/><use href="#ast" x="224.15" y="500.65"/><use href="#ast" x="283.59" y="500.65"/><use href="#ast" x="343.02" y="500.65"/><use href="#ast" x="382.65" y="500.65"/><use href="#ast" x="402.46" y="500.65"/><use href="#ast" x="422.27" y="500.65"/><use href="#ast" x="442.08" y="500.65"/><use href="#ast" x="461.90" y="500.65"/><use href="#ast" x="481.71" y="500.65"/><use href="#ast" x="521.33" y="500.65"/><use href="#ast" x="541.14" y="500.65"/><use href="#ast" x="560.96" y="500.65"/><use href="#ast" x="580.77" y="500.65"/><use href="#ast" x="600.58" y="500.65"/><use href="#ast" x="620.39" y="500.65"/><use href="#ast" x="184.53" y="520.46"/><use href="#ast" x="204.34" y="520.46"/><use href="#ast" x="224.15" y="520.46"/><use href="#ast" x="283.59" y="520.46"/><use href="#ast" x="303.40" y="520.46"/><use href="#ast" x="343.02" y="520.46"/><use href="#ast" x="382.65" y="520.46"/><use href="#ast" x="402.46" y="520.46"/><use href="#ast" x="422.27" y="520.46"/><use href="#ast" x="442.08" y="520.46"/><use href="#ast" x="461.90" y="520.46"/><use href="#ast" x="481.71" y="520.46"/><use href="#ast" x="501.52" y="520.46"/><use href="#ast" x="541.14" y="520.46"/><use href="#ast" x="560.96" y="520.46"/><use href="#ast" x="580.77" y="520.46"/><use href="#ast" x="600.58" y="520.46"/><use href="#ast" x="620.39" y="520.46"/><use href="#ast" x="184.53" y="540.26"/><use href="#ast" x="204.34" y="540.26"/><use href="#ast" x="224.15" y="540.26"/><use href="#ast" x="283.59" y="540.26"/><use href="#ast" x="343.02" y="540.26"/><use href="#ast" x="382.65" y="540.26"/><use href="#ast" x="402.46" y="540.26"/><use href="#ast" x="422.27" y="540.26"/><use href="#ast" x="442.08" y="540.26"/><use href="#ast" x="461.90" y="540.26"/><use href="#ast" x="481.71" y="540.26"/><use href="#ast" x="501.52" y="540.26"/><use href="#ast" x="521.33" y="540.26"/><use href="#ast" x="560.96" y="540.26"/><use href="#ast" x="580.77" y="540.26"/><use href="#ast" x="600.58" y="540.26"/><use href="#ast" x="620.39" y="540.26"/><use href="#ast" x="184.53" y="560.06"/><use href="#ast" x="204.34" y="560.06"/><use href="#ast" x="224.15" y="560.06"/><use href="#ast" x="283.59" y="560.06"/><use href="#ast" x="303.40" y="560.06"/><use href="#ast" x="343.02" y="560.06"/><use href="#ast" x="382.65" y="560.06"/><use href="#ast" x="402.46" y="560.06"/><use href="#ast" x="422.27" y="560.06"/><use href="#ast" x="442.08" y="560.06"/><use href="#ast" x="461.90" y="560.06"/><use href="#ast" x="481.71" y="560.06"/><use href="#ast" x="501.52" y="560.06"/><use href="#ast" x="521.33" y="560.06"/><use href="#ast" x="541.14" y="560.06"/><use href="#ast" x="580.77" y="560.06"/><use href="#ast" x="600.58" y="560.06"/><use href="#ast" x="620.39" y="560.06"/><use href="#ast" x="184.53" y="579.86"/><use href="#ast" x="204.34" y="579.86"/><use href="#ast" x="224.15" y="579.86"/><use href="#ast" x="283.59" y="579.86"/><use href="#ast" x="303.40" y="579.86"/><use href="#ast" x="343.02" y="579.86"/><use href="#ast" x="382.65" y="579.86"/><use href="#ast" x="402.46" y="579.86"/><use href="#ast" x="422.27" y="579.86"/><use href="#ast" x="442.08" y="579.86"/><use href="#ast" x="461.90" y="579.86"/><use href="#ast" x="481.71" y="579.86"/><use href="#ast" x="501.52" y="579.86"/><use href="#ast" x="521.33" y="579.86"/><use href="#ast" x="541.14" y="579.86"/><use href="#ast" x="560.96" y="579.86"/><use href="#ast" x="600.58" y="579.86"/><use href="#ast" x="620.39" y="579.86"/><use href="#ast" x="184.53" y="599.66"/><use href="#ast" x="204.34" y="599.66"/><use href="#ast" x="224.15" y="599.66"/><use href="#ast" x="283.59" y="599.66"/><use href="#ast" x="343.02" y="599.66"/><use href="#ast" x="382.65" y="599.66"/><use href="#ast" x="402.46" y="599.66"/><use href="#ast" x="422.27" y="599.66"/><use href="#ast" x="442.08" y="599.66"/><use href="#ast" x="461.90" y="599.66"/><use href="#ast" x="481.71" y="599.66"/><use href="#ast" x="501.52" y="599.66"/><use href="#ast" x="521.33" y="599.66"/><use href="#ast" x="541.14" y="599.66"/><use href="#ast" x="560.96" y="599.66"/><use href="#ast" x="580.77" y="599.66"/><use href="#ast" x="620.39" y="599.66"/><use href="#ast" x="184.53" y="619.47"/><use href="#ast" x="204.34" y="619.47"/><use href="#ast" x="224.15" y="619.47"/><use href="#ast" x="283.59" y="619.47"/><use href="#ast" x="343.02" y="619.47"/><use href="#ast" x="382.65" y="619.47"/><use href="#ast" x="402.46" y="619.47"/><use href="#ast" x="422.27" y="619.47"/><use href="#ast" x="442.08" y="619.47"/><use href="#ast" x="461.90" y="619.47"/><use href="#ast" x="481.71" y="619.47"/><use href="#ast" x="501.52" y="619.47"/><use href="#ast" x="521.33" y="619.47"/><use href="#ast" x="541.14" y="619.47"/><use href="#ast" x="560.96" y="619.47"/><use href="#ast" x="580.77" y="619.47"/><use href="#ast" x="600.58" y="619.47"/><text x="151.3" y="165.77" font-size="7.3" text-anchor="end">social_support</text><text x="151.3" y="185.57" font-size="7.3" text-anchor="end">subjective_well_being</text><text x="151.3" y="205.38" font-size="7.3" text-anchor="end">dyadic_adjustment_scale</text><text x="151.3" y="225.18" font-size="7.3" text-anchor="end">life_satisfaction</text><text x="151.3" y="244.98" font-size="7.3" text-anchor="end">lat</text><text x="151.3" y="264.78" font-size="7.3" text-anchor="end">lng</text><text x="151.3" y="284.58" font-size="7.3" text-anchor="end">years_of_education</text><text x="151.3" y="304.38" font-size="7.3" text-anchor="end">income</text><text x="151.3" y="324.19" font-size="7.3" text-anchor="end">age</text><text x="151.3" y="343.99" font-size="7.3" text-anchor="end" textLength="50.6" lengthAdjust="spacingAndGlyphs">PM2.5 (µg/m^3)</text><text x="151.3" y="363.79" font-size="7.3" text-anchor="end">post_traumatic_growth</text><text x="151.3" y="383.59" font-size="7.3" text-anchor="end">somatic_complaints</text><text x="151.3" y="403.39" font-size="7.3" text-anchor="end">health_issues_count</text><text x="151.3" y="423.20" font-size="7.3" text-anchor="end">avoidence_severity_score</text><text x="151.3" y="443.00" font-size="7.3" text-anchor="end">intrusive_severity_score</text><text x="151.3" y="462.80" font-size="7.3" text-anchor="end">total_severity_score</text><text x="151.3" y="482.60" font-size="7.3" text-anchor="end">reactivity_severity_score</text><text x="151.3" y="502.40" font-size="7.3" text-anchor="end">hostility</text><text x="151.3" y="522.21" font-size="7.3" text-anchor="end">obsessive_compulsive_problems</text><text x="151.3" y="542.01" font-size="7.3" text-anchor="end">anxiety</text><text x="151.3" y="561.81" font-size="7.3" text-anchor="end">psychopathology_total_score</text><text x="151.3" y="581.61" font-size="7.3" text-anchor="end">depression</text><text x="151.3" y="601.41" font-size="7.3" text-anchor="end">negative_cognition_and_mood_severity_score</text><text x="151.3" y="621.22" font-size="7.3" text-anchor="end">interpersonal_sensitivity</text><text transform="translate(166.67,151.00) rotate(-90)" x="0" y="0" font-size="7.3">social_support</text><text transform="translate(186.48,151.00) rotate(-90)" x="0" y="0" font-size="7.3">subjective_well_being</text><text transform="translate(206.29,151.00) rotate(-90)" x="0" y="0" font-size="7.3">dyadic_adjustment_scale</text><text transform="translate(226.10,151.00) rotate(-90)" x="0" y="0" font-size="7.3">life_satisfaction</text><text transform="translate(245.91,151.00) rotate(-90)" x="0" y="0" font-size="7.3">lat</text><text transform="translate(265.73,151.00) rotate(-90)" x="0" y="0" font-size="7.3">lng</text><text transform="translate(285.54,151.00) rotate(-90)" x="0" y="0" font-size="7.3">years_of_education</text><text transform="translate(305.35,151.00) rotate(-90)" x="0" y="0" font-size="7.3">income</text><text transform="translate(325.16,151.00) rotate(-90)" x="0" y="0" font-size="7.3">age</text><text transform="translate(344.97,151.00) rotate(-90)" x="0" y="0" font-size="7.3" textLength="50.6" lengthAdjust="spacingAndGlyphs">PM2.5 (µg/m^3)</text><text transform="translate(364.79,151.00) rotate(-90)" x="0" y="0" font-size="7.3">post_traumatic_growth</text><text transform="translate(384.60,151.00) rotate(-90)" x="0" y="0" font-size="7.3">somatic_complaints</text><text transform="translate(404.41,151.00) rotate(-90)" x="0" y="0" font-size="7.3">health_issues_count</text><text transform="translate(424.22,151.00) rotate(-90)" x="0" y="0" font-size="7.3">avoidence_severity_score</text><text transform="translate(444.03,151.00) rotate(-90)" x="0" y="0" font-size="7.3">intrusive_severity_score</text><text transform="translate(463.85,151.00) rotate(-90)" x="0" y="0" font-size="7.3">total_severity_score</text><text transform="translate(483.66,151.00) rotate(-90)" x="0" y="0" font-size="7.3">reactivity_severity_score</text><text transform="translate(503.47,151.00) rotate(-90)" x="0" y="0" font-size="7.3">hostility</text><text transform="translate(523.28,151.00) rotate(-90)" x="0" y="0" font-size="7.3">obsessive_compulsive_problems</text><text transform="translate(543.09,151.00) rotate(-90)" x="0" y="0" font-size="7.3">anxiety</text><text transform="translate(562.91,151.00) rotate(-90)" x="0" y="0" font-size="7.3">psychopathology_total_score</text><text transform="translate(582.72,151.00) rotate(-90)" x="0" y="0" font-size="7.3">depression</text><text transform="translate(602.53,151.00) rotate(-90)" x="0" y="0" font-size="7.3">negative_cognition_and_mood_severity_score</text><text transform="translate(622.34,151.00) rotate(-90)" x="0" y="0" font-size="7.3">interpersonal_sensitivity</text><defs><linearGradient id="cb" x1="0" y1="0" x2="0" y2="1"><stop offset="0.00" stop-color="#053061"/><stop offset="0.10" stop-color="#2166AC"/><stop offset="0.20" stop-color="#4393C3"/><stop offset="0.30" stop-color="#92C5DE"/><stop offset="0.40" stop-color="#D1E5F0"/><stop offset="0.50" stop-color="#FFFFFF"/><stop offset="0.60" stop-color="#FDDBC7"/><stop offset="0.70" stop-color="#F4A582"/><stop offset="0.80" stop-color="#D6604D"/><stop offset="0.90" stop-color="#B2182B"/><stop offset="1.00" stop-color="#67001F"/></linearGradient></defs><rect x="639.50" y="153.90" width="18.10" height="475.10" fill="url(#cb)"/><rect x="639.50" y="153.90" width="18.10" height="475.10" fill="none" stroke="rgba(0,0,0,0.45)" stroke-width="0.8"/><path d="M657.60 153.90H660.80M657.60 201.41H660.80M657.60 248.92H660.80M657.60 296.43H660.80M657.60 343.94H660.80M657.60 391.45H660.80M657.60 438.96H660.80M657.60 486.47H660.80M657.60 533.98H660.80M657.60 581.49H660.80M657.60 629.00H660.80" stroke="#333" stroke-width="0.8" fill="none"/><text x="680.0" y="156.40" font-size="6.8" text-anchor="middle" letter-spacing="-0.45">1</text><text x="680.0" y="203.91" font-size="6.8" text-anchor="middle" letter-spacing="-0.45">0.8</text><text x="680.0" y="251.42" font-size="6.8" text-anchor="middle" letter-spacing="-0.45">0.6</text><text x="680.0" y="298.93" font-size="6.8" text-anchor="middle" letter-spacing="-0.45">0.4</text><text x="680.0" y="346.44" font-size="6.8" text-anchor="middle" letter-spacing="-0.45">0.2</text><text x="680.0" y="393.95" font-size="6.8" text-anchor="middle" letter-spacing="-0.45">0</text><text x="680.0" y="441.46" font-size="6.8" text-anchor="middle" letter-spacing="-0.45">-0.2</text><text x="680.0" y="488.97" font-size="6.8" text-anchor="middle" letter-spacing="-0.45">-0.4</text><text x="680.0" y="536.48" font-size="6.8" text-anchor="middle" letter-spacing="-0.45">-0.6</text><text x="680.0" y="583.99" font-size="6.8" text-anchor="middle" letter-spacing="-0.45">-0.8</text><text x="680.0" y="631.50" font-size="6.8" text-anchor="middle" letter-spacing="-0.45">-1</text></svg>
</body></html>
